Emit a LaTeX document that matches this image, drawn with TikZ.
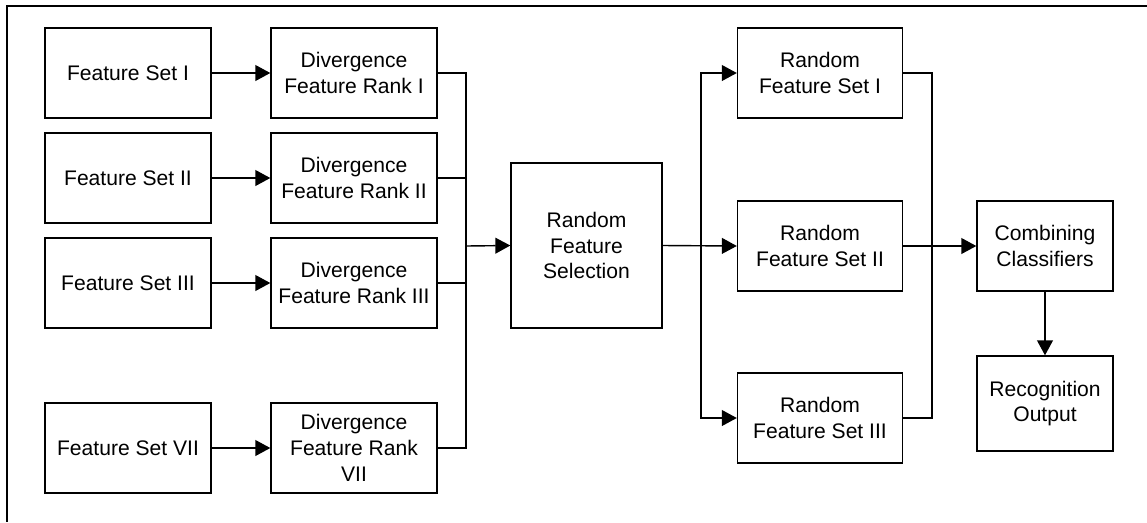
\documentclass[tikz,border=0pt]{standalone}
\usepackage{fontspec}
\setmainfont{Liberation Sans}
\usetikzlibrary{arrows.meta}
\begin{document}
\begin{tikzpicture}[x=0.02cm,y=-0.02cm,
  every node/.style={font=\fontsize{12}{14.6}\selectfont, align=center, inner sep=1pt},
  blk/.style={draw, line width=0.8pt, minimum width=3.32cm, minimum height=1.8cm},
  link/.style={line width=0.8pt},
  arr/.style={line width=0.8pt, -{Triangle[length=8.5pt,width=9pt]}}]
\useasboundingbox (0,0) rectangle (1147,522);
% outer frame
\draw[link] (1147,6) -- (7,6) -- (7,522);
% feature sets
\node[blk] (f1) at (128,73) {Feature Set I};
\node[blk] (f2) at (128,178) {Feature Set II};
\node[blk] (f3) at (128,283) {Feature Set III};
\node[blk] (f7) at (128,448) {Feature Set VII};
% divergence ranks
\node[blk] (d1) at (354,73) {Divergence\\Feature Rank I};
\node[blk] (d2) at (354,178) {Divergence\\Feature Rank II};
\node[blk] (d3) at (354,283) {Divergence\\Feature Rank III};
\node[blk] (d7) at (354,448) {Divergence\\Feature Rank\\VII};
% selection
\node[blk, minimum width=3.02cm, minimum height=3.3cm] (rfs) at (586.5,245.5) {Random\\Feature\\Selection};
% random feature sets
\node[blk, minimum width=3.3cm] (r1) at (820,73) {Random\\Feature Set I};
\node[blk, minimum width=3.3cm] (r2) at (820,246) {Random\\Feature Set II};
\node[blk, minimum width=3.3cm] (r3) at (820,418) {Random\\Feature Set III};
% combination and output
\node[blk, minimum width=2.72cm] (comb) at (1045,246) {Combining\\Classifiers};
\node[blk, minimum width=2.72cm, minimum height=1.9cm] (rec) at (1045,403.5) {Recognition\\Output};
% junction points of the buses
\coordinate (jl) at (466,246);
\coordinate (jr) at (701,246);
\coordinate (jc) at (932,246);
% connectors
\foreach \i in {1,2,3,7} \draw[arr] (f\i.east) -- (d\i.west);
\draw[link] (d1.east) -- (d1.east -| jl) -- (d7.east -| jl) -- (d7.east);
\draw[link] (d2.east) -- (d2.east -| jl);
\draw[link] (d3.east) -- (d3.east -| jl);
\draw[arr] (jl) -- (rfs.west);
\draw[arr] (rfs.east) -- (r2.west);
\draw[arr] (jr) |- (r1.west);
\draw[arr] (jr) |- (r3.west);
\draw[link] (r1.east) -| (jc);
\draw[link] (r3.east) -| (jc);
\draw[arr] (r2.east) -- (comb.west);
\draw[arr] (comb.south) -- (rec.north);
\end{tikzpicture}
\end{document}
